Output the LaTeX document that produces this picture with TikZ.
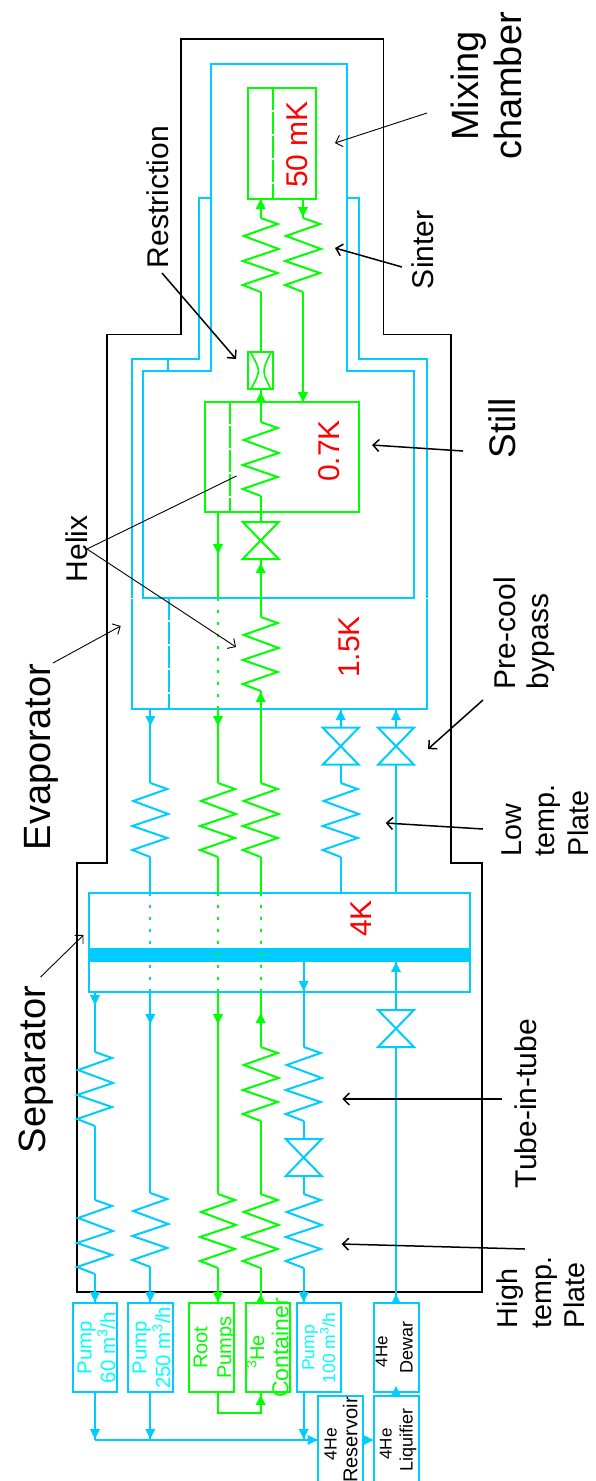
\documentclass[tikz,border=0pt]{standalone}
\usepackage{fontspec}
\setmainfont{Liberation Sans}
\usetikzlibrary{arrows.meta}
\definecolor{hb}{HTML}{00CCFF}
\definecolor{hc}{HTML}{00FFFF}
\definecolor{hg}{HTML}{00FF00}
\definecolor{hr}{HTML}{FF0000}
\newcommand\fsz[1]{\fontsize{#1}{#1}\selectfont}
\newcommand\bnode[6]{\node[#6,minimum width={(#4-#2)*1pt},minimum height={(#5-#3)*1pt}] (#1) at ({(#2+#4)/2},{(#3+#5)/2}) {};}
\newcommand\tipD[3]{\fill[#1] (#2,#3)--++(-5,-10)--++(10,0)--cycle;}
\newcommand\tipU[3]{\fill[#1] (#2,#3)--++(-5,10)--++(10,0)--cycle;}
% one line of a box label: raised by #1 from the box axis, size #2
\newcommand\boxline[3]{\makebox[0pt][c]{\raisebox{#1pt}[0pt][0pt]{\fsz{#2}#3}}}
\tikzset{
  x=1pt,y=-1pt,
  bl/.style={draw=hb,line width=2pt},
  gl/.style={draw=hg,line width=2pt},
  bk/.style={draw=black,line width=1.8pt},
  rbox/.style={draw,inner sep=0pt,outer sep=0pt},
  dotl/.style={dash pattern=on 3pt off 9pt},
  dashl/.style={dash pattern=on 22pt off 2pt},
  pumpb/.style={draw,rotate=90,inner sep=0pt,outer sep=0pt,minimum width=89pt,minimum height=44.6pt},
  call/.style={draw=black,line width=.9pt,-{Straight Barb[length=6pt,width=12pt]}},
  callb/.style={draw=black,line width=1.5pt,-{Straight Barb[length=6pt,width=12pt]}},
  lab/.style={rotate=90,inner sep=0pt,outer sep=0pt,text=black},
  temp/.style={rotate=90,inner sep=0pt,outer sep=0pt,text=hr,font=\fsz{30}},
  zig/.pic={\coordinate (-t) at (0,0); \coordinate (-b) at (0,74);
    \path[pic actions] (0,0)--(17,6)--(-17,18)--(18,31)--(-18,43)--(17,55)--(-18,67)--(0,74);},
  valve/.pic={\coordinate (-t) at (0,0); \coordinate (-b) at (0,37);
    \path[pic actions] (-18,0)--(18,0)--(-18,37)--(18,37)--cycle;},
}
\begin{document}
\begin{tikzpicture}
\clip (0,0) rectangle (595,1481);
% column positions
\coordinate (xa) at (95,0);
\coordinate (xb) at (150.3,0);
\coordinate (xc) at (218,0);
\coordinate (xd) at (260.7,0);
\coordinate (xe) at (303.7,0);
\coordinate (xf) at (340.7,0);
\coordinate (xg) at (396,0);
% cryostat outline
\draw[bk,line join=miter] (181,39)--(383.5,39)--(383.5,334.5)--(451,334.5)--(451,862.7)--(482.3,862.7)--(482.3,1292)--(76.7,1292)--(76.7,862.7)--(107,862.7)--(107,334.5)--(181,334.5)--cycle;
% shields
\draw[bl] (211,64)--(346.7,64)--(346.7,371)--(414.3,371)--(414.3,598)--(143.3,598)--(143.3,371)--(211,371)--cycle;
\draw[bl] (211,198)--(199,198)--(199,359)--(132,359)--(132,709)--(426.7,709)--(426.7,359)--(359,359)--(359,198)--(346.7,198);
\draw[bl] (168,359)--(168,371);
\draw[bl,dashl] (168.8,598)--(168.8,709);
\draw[draw=white,line width=.6pt] (131,598)--(142,598) (415.5,598)--(428,598);
% main boxes
\bnode{four}{88.8}{892.7}{470}{992}{rbox,bl}
\bnode{onefive}{132}{598}{426.7}{709}{}
\bnode{still}{205}{402}{359}{512}{rbox,gl}
\bnode{mc}{248}{88}{316}{199}{rbox,gl}
\bnode{restr}{248}{352}{273}{389}{rbox,gl}
\fill[hb] (88,948) rectangle (471,962);
\draw[gl,dashl] (230,402)--(230,512);
\draw[gl,dashl] (273,88)--(273,199);
\draw[gl,line width=1.6pt] (251,353) .. controls (260.8,371) .. (251,389);
\draw[gl,line width=1.6pt] (270.7,353) .. controls (261.8,371) .. (270.7,389);
% zigzags
\pic[bl] (za1) at (95,1052) {zig};
\pic[bl] (za2) at (95,1200) {zig};
\pic[bl] (zb1) at (150.3,783) {zig};
\pic[bl] (zb2) at (150.3,1193) {zig};
\pic[gl] (zc1) at (218,783) {zig};
\pic[gl] (zc2) at (218,1194) {zig};
\pic[gl] (zd0) at (260.7,617) {zig};
\pic[gl] (zd1) at (260.7,783) {zig};
\pic[gl] (zd2) at (260.7,1047) {zig};
\pic[gl] (zd3) at (260.7,1194) {zig};
\pic[gl] (zs) at (260.7,422) {zig};
\pic[gl] (zm1) at (260.7,218) {zig};
\pic[gl] (zm2) at (303,218) {zig};
\pic[bl] (ze1) at (303.7,1047) {zig};
\pic[bl] (ze2) at (303.7,1194) {zig};
\pic[bl] (zf) at (340.7,783) {zig};
% valves
\pic[bl] (vg2) at (396,1010) {valve};
\pic[bl] (ve) at (303.7,1139) {valve};
\pic[bl] (vf) at (340.7,727.7) {valve};
\pic[bl] (vg1) at (396,727.7) {valve};
\pic[gl] (vd) at (260.7,522) {valve};
% pump boxes
\node[pumpb,bl,text=hc] (pa) at (95,1347.8) {\boxline{3.3}{20.4}{Pump}\boxline{-20}{20.4}{60 m\textsuperscript{3}/h}};
\node[pumpb,bl,text=hc] (pb) at (150.3,1347.8) {\boxline{3.6}{20.4}{Pump}\boxline{-19.7}{20.4}{250 m\textsuperscript{3}/h}};
\node[pumpb,gl,text=hg] (pc) at (211.3,1347.8) {\boxline{4}{20}{Root}\boxline{-19.7}{20}{Pumps}};
\node[pumpb,gl,text=hg] (pd) at (268,1347.8) {\boxline{4}{20}{\hspace*{-8pt}\textsuperscript{3}He}\boxline{-20.3}{23}{Container}};
\node[pumpb,bl,text=hc] (pe) at (318.8,1347.8) {\boxline{4.5}{17.5}{Pump}\boxline{-16.2}{17.5}{100 m\textsuperscript{3}/h}};
\node[pumpb,bl,text=black] (dew) at (396.2,1347.8) {\boxline{8.9}{17}{\hspace*{-8pt}4He}\boxline{-16.5}{18}{Dewar}};
\node[pumpb,bl,text=black,minimum width=88pt] (res) at (340.7,1440) {\boxline{4}{17.5}{\hspace*{-8pt}4He}\boxline{-16.6}{20}{Reservoir}};
\node[pumpb,bl,text=black,minimum width=88pt] (liq) at (396.2,1440) {\boxline{4.5}{17}{\hspace*{-8pt}4He}\boxline{-16.5}{18}{Liquifier}};
% line xa (60 m3/h)
\draw[bl] (xa |- four.south)--(za1-t);
\tipD{hb}{95}{1005}
\draw[bl] (za1-b)--(za2-t);
\draw[bl] (za2-b)--(xa |- pa.east);
\tipD{hb}{95}{1302}
% line xb (250 m3/h)
\draw[bl] (xb |- onefive.south)--(zb1-t);
\tipD{hb}{150.3}{726}
\draw[bl] (zb1-b)--(xb |- four.north);
\draw[bl,dotl] (xb |- four.north)--(xb |- four.south);
\draw[bl] (xb |- four.south)--(zb2-t);
\tipD{hb}{150.3}{1024}
\draw[bl] (zb2-b)--(xb |- pb.east);
\tipD{hb}{150.3}{1302}
% line xc (root pumps)
\draw[gl] (xc |- still.south)--(218,598);
\tipD{hg}{218}{554}
\draw[gl,dotl] (218,598)--(xc |- onefive.south);
\draw[gl] (xc |- onefive.south)--(zc1-t);
\tipD{hg}{218}{726}
\draw[gl] (zc1-b)--(xc |- four.north);
\draw[gl,dotl] (xc |- four.north)--(xc |- four.south);
\draw[gl] (xc |- four.south)--(zc2-t);
\tipD{hg}{218}{1024}
\draw[gl] (zc2-b)--(xc |- pc.east);
\tipD{hg}{218}{1302}
% line xd (3He return)
\draw[gl] (zd3-b)--(xd |- pd.east);
\tipU{hg}{260.7}{1294}
\draw[gl] (zd3-t)--(zd2-b);
\draw[gl] (zd2-t)--(xd |- four.south);
\tipU{hg}{260.7}{1013}
\draw[gl,dotl] (xd |- four.south)--(xd |- four.north);
\draw[gl] (xd |- four.north)--(zd1-b);
\draw[gl] (zd1-t)--(zd0-b);
\tipU{hg}{260.7}{692}
\draw[gl] (zd0-t)--(vd-b);
\tipU{hg}{260.7}{563}
\draw[gl] (vd-t)--(zs-b);
\draw[gl] (zs-t)--(xd |- restr.south);
\tipU{hg}{260.7}{392}
\draw[gl] (xd |- restr.north)--(zm1-b);
\draw[gl] (zm1-t)--(260.7,199);
\tipU{hg}{260.7}{199}
% mixing chamber to still
\draw[gl] (303,199)--(zm2-t);
\tipD{hg}{303}{217}
\draw[gl] (zm2-b)--(303,402);
\tipD{hg}{303}{402}
% line xe (100 m3/h)
\draw[bl] (xe |- four.south)--(303.7,962);
\draw[bl] (xe |- four.south)--(ze1-t);
\tipD{hb}{303.7}{991}
\draw[bl] (ze1-b)--(ve-t);
\draw[bl] (ve-b)--(ze2-t);
\draw[bl] (ze2-b)--(xe |- pe.east);
\tipD{hb}{303.7}{1302}
% line xf
\draw[bl] (xf |- four.north)--(zf-b);
\draw[bl] (zf-t)--(vf-b);
\draw[bl] (vf-t)--(xf |- onefive.south);
\tipU{hb}{340.7}{710}
% line xg
\draw[bl] (xg |- four.north)--(vg1-b);
\draw[bl] (vg1-t)--(xg |- onefive.south);
\tipU{hb}{396}{710}
\draw[bl] (vg2-t)--(396,962);
\tipU{hb}{396}{962}
\draw[bl] (vg2-b)--(xg |- dew.east);
\tipU{hb}{396}{1294}
% pump outlets
\coordinate (ja) at (95,1440);
\coordinate (jb) at (150.3,1440);
\coordinate (je) at (303.7,1440);
\draw[bl] (pa.west)--(ja);
\tipD{hb}{95}{1439}
\draw[bl] (pb.west)--(jb);
\tipD{hb}{150.3}{1439}
\draw[bl] (xe |- pe.west)--(je);
\tipD{hb}{303.7}{1439}
\draw[bl] (ja)--(res.north |- ja);
\fill[hb] (317.7,1440)--++(-10,-5)--++(0,10)--cycle;
\fill[hb] (373.5,1440)--++(-10,-5)--++(0,10)--cycle;
\draw[bl] (liq.east)--(dew.west);
\tipU{hb}{396}{1386}
\draw[gl] (xc |- pc.west)--(218,1412.7)--(260.7,1412.7)--(xd |- pd.west);
\tipU{hg}{260.7}{1395}
% temperatures
\node[temp,anchor=base] (t4) at (371,918.5) {4K};
\node[temp,anchor=base] (t15) at (359,647) {1.5K};
\node[temp,anchor=base] (t07) at (339,451) {0.7K};
\node[temp,anchor=base] (t50) at (307,144.5) {50 mK};
% callouts
\node[lab,font=\fsz{38},anchor=base west] (lsep) at (45.5,1153) {Separator};
\coordinate (asep) at (83.5,935);
\draw[call] (40.6,977)--(asep);
\node[lab,font=\fsz{38},anchor=base west] (levap) at (50.5,850) {Evaporator};
\coordinate (aevap) at (120.7,626);
\draw[call] (53,663)--(aevap);
\node[lab,font=\fsz{30},anchor=base west] (lhel) at (87.3,582) {Helix};
\coordinate (ahel) at (87,549);
\coordinate (ah1) at (236.5,476);
\coordinate (ah2) at (236,647);
\draw[draw=black,line width=.9pt] (ahel)--(ah1);
\draw[call] (ahel)--(ah2);
\node[lab,font=\fsz{30},anchor=base west] (lres) at (168,268) {Restriction};
\coordinate (ares) at (236,359);
\draw[callb] (162,273)--(ares);
\node[lab,font=\fsz{38},anchor=base,align=center] (lmix) at (521.7,86) {Mixing\\[5.7pt]chamber};
\coordinate (amix) at (335,143);
\draw[call] (427,113)--(amix);
\node[lab,font=\fsz{30},anchor=base west] (lsin) at (433,289) {Sinter};
\coordinate (asin) at (335,248);
\draw[callb] (402,267)--(asin);
\node[lab,font=\fsz{37},anchor=base west] (lsti) at (515,458) {Still};
\coordinate (asti) at (372,445);
\draw[callb] (463,451)--(asti);
\node[lab,font=\fsz{30},anchor=base west,align=left] (lpre) at (548.4,689) {Pre-cool\\[3.4pt]bypass};
\coordinate (apre) at (428,749);
\draw[callb] (483,700)--(apre);
\node[lab,font=\fsz{28.7},anchor=base west,align=left] (llow) at (588,856) {Low\\[4.6pt]temp.\\[4.6pt]Plate};
\coordinate (alow) at (385.7,823);
\draw[callb] (483,829)--(alow);
\node[lab,font=\fsz{30},anchor=base west] (ltub) at (536,1188) {Tube-in-tube};
\coordinate (atub) at (342.3,1099);
\draw[callb] (501.7,1099)--(atub);
\node[lab,font=\fsz{28.7},anchor=base west,align=left] (lhig) at (584.5,1328) {High\\[4.6pt]temp.\\[4.6pt]Plate};
\coordinate (ahig) at (341.6,1244);
\draw[callb] (525,1249)--(ahig);
\end{tikzpicture}
\end{document}
